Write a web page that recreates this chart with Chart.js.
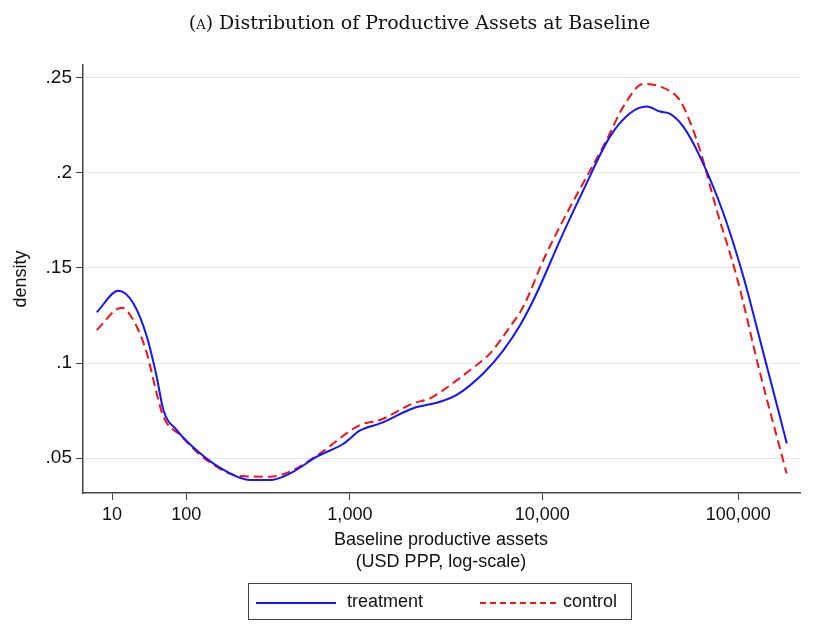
<!DOCTYPE html>
<html lang="en">
<head>
  <meta charset="UTF-8" />
  <title>Distribution of Productive Assets at Baseline</title>
  <script src="https://cdn.jsdelivr.net/npm/chart.js"></script>
  <style>
    body { margin: 0; background: #fff; font-family: "Liberation Sans", Arial, sans-serif; }
    #wrap { position: relative; width: 839px; height: 632px; }
    canvas { position: absolute; left: 0; top: 0; }
    .title {
      position: absolute; top: 11px; left: 0; width: 839px; text-align: center;
      font-family: "DejaVu Serif", "Liberation Serif", serif; font-size: 19px; color: #111;
    }
    .sc { font-variant: small-caps; }
    .xtitle {
      position: absolute; top: 528px; left: 241px; width: 400px; text-align: center;
      font-size: 18px; line-height: 22px; color: #111;
    }
    .legend {
      position: absolute; left: 248px; top: 583px; width: 382px; height: 35px;
      border: 1px solid #444; font-size: 18px; color: #111;
    }
    .legend span { position: absolute; top: 7px; }
    .legend i { position: absolute; top: 18px; height: 0; }
  </style>
</head>
<body>
<div id="wrap">
  <canvas id="chart" width="839" height="632"></canvas>
  <div class="title"><span class="sc">(a)</span> Distribution of Productive Assets at Baseline</div>
  <div class="xtitle">Baseline productive assets<br>(USD PPP, log-scale)</div>
  <div class="legend">
    <i style="left:7px;width:80px;border-top:2px solid #1414ff"></i><span style="left:98px">treatment</span>
    <i style="left:231px;width:76px;border-top:2px dashed #f01414"></i><span style="left:314px">control</span>
  </div>
</div>
<script>
  // x positions are log10(assets + 55), the axis transform used in the figure
  const tickAssets = [10, 100, 1000, 10000, 100000];
  const tickLabels = ['10', '100', '1,000', '10,000', '100,000'];

  const treatX = [1.735, 1.845, 1.921, 1.990, 2.040, 2.074, 2.142, 2.261, 2.397, 2.515, 2.617, 2.719,
    2.855, 2.990, 3.075, 3.177, 3.346, 3.482, 3.567, 3.703, 3.805, 3.890, 3.974, 4.093, 4.212,
    4.347, 4.449, 4.534, 4.602, 4.653, 4.720, 4.805, 4.924, 5.026, 5.128, 5.247];
  const treatY = [.1267, .138, .1314, .1138, .0928, .0753, .0647, .0525, .0428, .0384, .0384, .0419,
    .0507, .0575, .0645, .0682, .0762, .0796, .0832, .0946, .1068, .120, .1367, .1647, .1911,
    .2191, .2314, .2349, .2323, .2311, .2244, .2086, .1788, .1454, .1051, .0577];

  const ctrlX = [1.735, 1.862, 1.930, 1.990, 2.040, 2.074, 2.159, 2.295, 2.464, 2.617, 2.736, 2.872,
    3.075, 3.177, 3.347, 3.431, 3.499, 3.635, 3.737, 3.838, 3.906, 4.008, 4.127, 4.229, 4.330,
    4.415, 4.517, 4.602, 4.687, 4.721, 4.805, 4.890, 4.992, 5.111, 5.246];
  const ctrlY = [.1174, .1291, .1209, .1051, .084, .0717, .0621, .0489, .0405, .0402, .0437, .0525,
    .0674, .0700, .0788, .0814, .0858, .0963, .1051, .1191, .1297, .1542, .1788, .1981, .2174,
    .2349, .2468, .2455, .2402, .2349, .2121, .1805, .1454, .0946, .0419];

  const toPts = (xs, ys) => xs.map((x, i) => ({ x: x, y: ys[i] }));
  const tickPos = tickAssets.map(a => Math.log10(a + 55));

  new Chart(document.getElementById('chart'), {
    type: 'line',
    data: {
      datasets: [
        { label: 'treatment', data: toPts(treatX, treatY), borderColor: '#1414ff', borderWidth: 2,
          pointRadius: 0, tension: 0.4, cubicInterpolationMode: 'monotone' },
        { label: 'control', data: toPts(ctrlX, ctrlY), borderColor: '#f01414', borderWidth: 2,
          borderDash: [9, 5], pointRadius: 0, tension: 0.4, cubicInterpolationMode: 'monotone' }
      ]
    },
    options: {
      responsive: false,
      animation: false,
      layout: { padding: { top: 65, right: 39, left: 10, bottom: 0 } },
      plugins: { legend: { display: false }, tooltip: { enabled: false } },
      scales: {
        x: {
          type: 'linear', min: 1.665, max: 5.314,
          afterFit: s => { s.height = 139; },
          afterBuildTicks: s => { s.ticks = tickPos.map(v => ({ value: v })); },
          ticks: {
            autoSkip: false, maxRotation: 0, color: '#111', padding: 4,
            font: { size: 18, family: '"Liberation Sans", Arial' },
            callback: (v, i) => tickLabels[i]
          },
          grid: { drawOnChartArea: false, color: '#444', tickLength: 7, tickColor: '#444' },
          border: { color: '#444', width: 1.5 }
        },
        y: {
          min: 0.0316, max: 0.2568,
          afterFit: s => { s.width = 73; },
          afterBuildTicks: s => { s.ticks = [.05, .1, .15, .2, .25].map(v => ({ value: v })); },
          ticks: {
            color: '#111', padding: 4, font: { size: 19, family: '"Liberation Sans", Arial' },
            callback: v => String(+v.toFixed(2)).replace(/^0/, '')
          },
          title: { display: true, text: 'density', color: '#111', padding: 0,
            font: { size: 18, family: '"Liberation Sans", Arial' } },
          grid: { color: '#e6e6e6', tickLength: 7, tickColor: '#444' },
          border: { color: '#444', width: 1.5 }
        }
      }
    }
  });
</script>
</body>
</html>
